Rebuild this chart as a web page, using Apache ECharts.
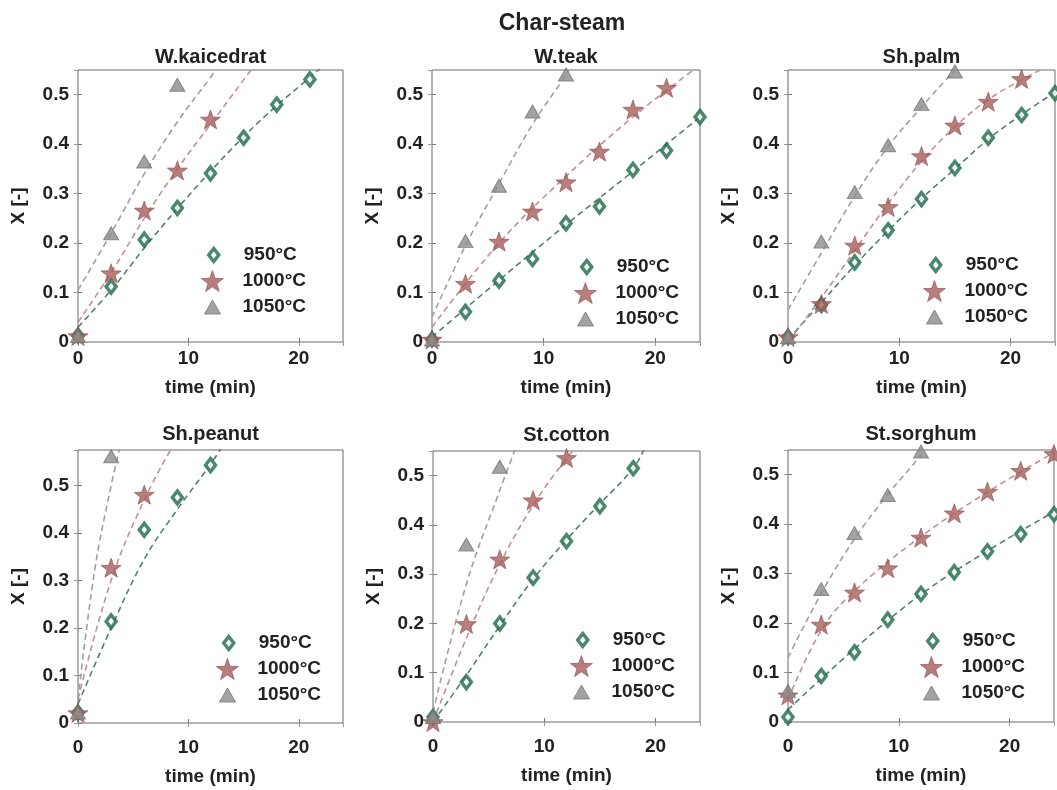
<!DOCTYPE html>
<html>
<head>
<meta charset="utf-8">
<title>Char-steam</title>
<script src="https://cdn.jsdelivr.net/npm/echarts@6/dist/echarts.min.js"></script>
<style>
    html, body { margin: 0; padding: 0; background: #fff; }
    #main { width: 1057px; height: 790px; }
</style>
</head>
<body>
<div id="main"></div>
<script>
// panel titles and temperatures
var panelNames = ["W.kaicedrat", "W.teak", "Sh.palm", "Sh.peanut", "St.cotton", "St.sorghum"];
var tempNames = ["950°C", "1000°C", "1050°C"];
var xTicks = [0, 10, 20];
var yMaxes = [0.55, 0.55, 0.55, 0.575, 0.55, 0.55];

// sampling times (min)
var t24 = [0, 3, 6, 9, 12, 15, 18, 21, 24];

// measured conversion X [-], one array per panel and temperature
var kaic950 = [0.013, 0.112, 0.207, 0.271, 0.341, 0.413, 0.480, 0.531];
var kaic1000 = [0.012, 0.139, 0.266, 0.347, 0.450];
var kaic1050 = [0.012, 0.220, 0.365, 0.520];

var teak950 = [0.005, 0.061, 0.124, 0.168, 0.240, 0.274, 0.348, 0.387, 0.455];
var teak1000 = [0.005, 0.118, 0.203, 0.264, 0.323, 0.385, 0.470, 0.514];
var teak1050 = [0.005, 0.204, 0.316, 0.466, 0.541];

var palm950 = [0.010, 0.075, 0.161, 0.226, 0.289, 0.352, 0.413, 0.459, 0.503];
var palm1000 = [0.010, 0.077, 0.195, 0.273, 0.376, 0.438, 0.486, 0.532];
var palm1050 = [0.010, 0.203, 0.303, 0.398, 0.481, 0.547];

var peanut950 = [0.022, 0.214, 0.407, 0.475, 0.543];
var peanut1000 = [0.021, 0.327, 0.481];
var peanut1050 = [0.022, 0.562];

var cotton950 = [0.010, 0.081, 0.200, 0.293, 0.367, 0.438, 0.515];
var cotton1000 = [0.000, 0.199, 0.330, 0.450, 0.536];
var cotton1050 = [0.010, 0.360, 0.518];

var sorg950 = [0.010, 0.093, 0.141, 0.207, 0.259, 0.303, 0.345, 0.380, 0.420];
var sorg1000 = [0.054, 0.197, 0.262, 0.311, 0.373, 0.422, 0.466, 0.508, 0.542];
var sorg1050 = [0.063, 0.269, 0.382, 0.459, 0.547];

// model curves (dashed) as [time, X]
var kaicFit950 = [[0, 0.03], [3, 0.105], [6, 0.19], [9, 0.27], [12, 0.345], [15, 0.415], [18, 0.478], [21, 0.535], [22.5, 0.565]];
var kaicFit1000 = [[0, 0.04], [3, 0.14], [6, 0.25], [9, 0.35], [12, 0.44], [15, 0.53], [16, 0.56]];
var kaicFit1050 = [[0, 0.105], [3, 0.22], [6, 0.34], [9, 0.445], [12, 0.535], [13, 0.565]];

var teakFit950 = [[0, 0.01], [6, 0.125], [12, 0.237], [18, 0.345], [24, 0.455]];
var teakFit1000 = [[0, 0.03], [6, 0.2], [12, 0.335], [18, 0.455], [24, 0.56]];
var teakFit1050 = [[0, 0.05], [3, 0.195], [6, 0.32], [9, 0.44], [12, 0.54], [12.5, 0.56]];

var palmFit950 = [[0, 0.005], [3, 0.08], [6, 0.155], [9, 0.225], [12, 0.29], [15, 0.35], [18, 0.41], [21, 0.46], [24, 0.505]];
var palmFit1000 = [[0, 0.0], [3, 0.09], [6, 0.185], [9, 0.28], [12, 0.365], [15, 0.435], [18, 0.49], [21, 0.53], [24, 0.565]];
var palmFit1050 = [[0, 0.065], [3, 0.18], [6, 0.295], [9, 0.395], [12, 0.475], [15, 0.55], [15.5, 0.56]];

var peanutFit950 = [[0, 0.04], [3, 0.2], [6, 0.345], [9, 0.45], [12, 0.545], [13, 0.58]];
var peanutFit1000 = [[0, 0.05], [3, 0.3], [6, 0.47], [8.5, 0.58]];
var peanutFit1050 = [[0, 0.05], [1.5, 0.32], [3, 0.5], [3.8, 0.58]];

var cottonFit950 = [[0, 0.0], [3, 0.095], [6, 0.195], [9, 0.29], [12, 0.37], [15, 0.443], [18, 0.515], [19, 0.555]];
var cottonFit1000 = [[0, 0.0], [3, 0.17], [6, 0.32], [9, 0.44], [12, 0.535], [13, 0.56]];
var cottonFit1050 = [[0, 0.02], [3, 0.28], [6, 0.47], [7.5, 0.56]];

var sorgFit950 = [[0, 0.025], [6, 0.148], [12, 0.258], [18, 0.346], [24, 0.425]];
var sorgFit1000 = [[0, 0.045], [3, 0.185], [6, 0.265], [12, 0.375], [18, 0.465], [24, 0.545]];
var sorgFit1050 = [[0, 0.13], [3, 0.26], [6, 0.37], [9, 0.46], [12, 0.54], [12.5, 0.56]];

var measured = [
    [kaic950, kaic1000, kaic1050],
    [teak950, teak1000, teak1050],
    [palm950, palm1000, palm1050],
    [peanut950, peanut1000, peanut1050],
    [cotton950, cotton1000, cotton1050],
    [sorg950, sorg1000, sorg1050]
];
var fits = [
    [kaicFit950, kaicFit1000, kaicFit1050],
    [teakFit950, teakFit1000, teakFit1050],
    [palmFit950, palmFit1000, palmFit1050],
    [peanutFit950, peanutFit1000, peanutFit1050],
    [cottonFit950, cottonFit1000, cottonFit1050],
    [sorgFit950, sorgFit1000, sorgFit1050]
];

// layout of the six boxes (px); legCx/legCy = centre of the first legend marker
var boxes = [
    { left: 78, top: 70, width: 265, height: 272, legCx: 212, legCy: 255, row: 0 },
    { left: 432, top: 70, width: 268, height: 272, legCx: 585, legCy: 267, row: 0 },
    { left: 788, top: 70, width: 267, height: 272, legCx: 934, legCy: 265, row: 0 },
    { left: 78, top: 450, width: 265, height: 273, legCx: 227, legCy: 643, row: 1 },
    { left: 433, top: 451, width: 267, height: 271, legCx: 581, legCy: 640, row: 1 },
    { left: 788, top: 450, width: 266, height: 272, legCx: 931, legCy: 641, row: 1 }
];

var FONT = "'Liberation Sans', Arial, sans-serif";
var TXT = "#222222";
var FS = 19;
var STAR = "path://M0,-10L2.35,-3.24L9.51,-3.09L3.8,1.24L5.88,8.09L0,4.1L-5.88,8.09L-3.8,1.24L-9.51,-3.09L-2.35,-3.24Z";

var markerStyles = [
    { symbol: "diamond", symbolSize: [10, 13], legSize: [10, 13], itemStyle: { color: "#ffffff", borderColor: "#1b6a47", borderWidth: 3.5 } },
    { symbol: STAR, symbolSize: 20, legSize: [22, 22], itemStyle: { color: "#a65c5c", borderColor: "#8f4c4c", borderWidth: 0.8 } },
    { symbol: "triangle", symbolSize: [15, 13], legSize: [16, 14], itemStyle: { color: "#8c8c8c", borderColor: "#757575", borderWidth: 1 } }
];
var lineColors = ["#52806f", "#c29090", "#a0a0a0"];

var grids = [], xAxes = [], yAxes = [], series = [], legends = [], graphics = [];
var xTop = [], yRight = [];

graphics.push({
    type: "text", x: 562, y: 24,
    style: { text: "Char-steam", font: "bold 23px " + FONT, fill: TXT, textAlign: "center", textVerticalAlign: "middle", align: "center", verticalAlign: "middle" }
});

for (var i = 0; i < 6; i++) {
    var b = boxes[i];
    grids.push({
        left: b.left, top: b.top, width: b.width, height: b.height,
        show: true, borderColor: "#6a6a6a", borderWidth: 1, backgroundColor: "#fff", containLabel: false
    });
    graphics.push({
        type: "text", x: b.left + b.width / 2, y: b.top - (b.row ? 16 : 13),
        style: { text: panelNames[i], font: "bold 20px " + FONT, fill: TXT, textAlign: "center", textVerticalAlign: "middle", align: "center", verticalAlign: "middle" }
    });
    xAxes.push({
        type: "value", gridIndex: i, min: 0, max: 24, interval: 10,
        name: "time (min)", nameLocation: "middle", nameGap: b.row ? 44 : 36,
        nameTextStyle: { fontFamily: FONT, fontWeight: "bold", fontSize: FS, color: TXT },
        axisLine: { show: false },
        axisTick: { show: true, inside: true, length: 4, lineStyle: { color: "#777" } },
        axisLabel: { margin: b.row ? 15 : 7, showMaxLabel: false, fontFamily: FONT, fontWeight: "bold", fontSize: FS, color: TXT },
        splitLine: { show: false }
    });
    yAxes.push({
        type: "value", gridIndex: i, min: 0, max: yMaxes[i], interval: 0.1,
        name: "X [-]", nameLocation: "middle", nameGap: 50,
        nameTextStyle: { fontFamily: FONT, fontWeight: "bold", fontSize: FS, color: TXT },
        axisLine: { show: false },
        axisTick: { show: true, inside: true, length: 4, lineStyle: { color: "#777" } },
        axisLabel: {
            margin: 9, showMaxLabel: false, fontFamily: FONT, fontWeight: "bold", fontSize: FS, color: TXT,
            formatter: function (v) { return Math.abs(v * 10 - Math.round(v * 10)) < 1e-6 ? String(Math.round(v * 10) / 10) : ""; }
        },
        splitLine: { show: false }
    });
    // box ticks on the top and right edges
    xTop.push({
        type: "value", gridIndex: i, position: "top", min: 0, max: 24, interval: 10,
        axisLine: { show: false }, axisLabel: { show: false }, splitLine: { show: false },
        axisTick: { show: true, inside: true, length: 4, lineStyle: { color: "#999" } }
    });
    yRight.push({
        type: "value", gridIndex: i, position: "right", min: 0, max: yMaxes[i], interval: 0.1,
        axisLine: { show: false }, axisLabel: { show: false }, splitLine: { show: false },
        axisTick: { show: true, inside: true, length: 4, lineStyle: { color: "#999" } }
    });
    for (var j = 0; j < 3; j++) {
        series.push({
            type: "line", name: "fit" + j, xAxisIndex: i, yAxisIndex: i,
            data: fits[i][j], smooth: 0.4, showSymbol: false, silent: true, clip: true, z: 2,
            lineStyle: { color: lineColors[j], width: 1.6, type: [6, 4] }
        });
    }
    for (var j = 0; j < 3; j++) {
        var vals = measured[i][j];
        var pts = [];
        for (var k = 0; k < vals.length; k++) {
            pts.push([t24[k], vals[k]]);
        }
        var ms = markerStyles[j];
        series.push({
            type: "scatter", name: tempNames[j], xAxisIndex: i, yAxisIndex: i,
            data: pts, symbol: ms.symbol, symbolSize: ms.symbolSize, symbolKeepAspect: j == 1,
            itemStyle: ms.itemStyle, z: 3, clip: false
        });
        // one legend entry per marker so each icon keeps its own size
        var w = ms.legSize[0], h = ms.legSize[1];
        var cy = b.legCy + j * 26;
        legends.push({
            data: [{ name: tempNames[j], icon: ms.symbol, itemStyle: ms.itemStyle }],
            orient: "vertical", left: b.legCx - w / 2, top: cy - 11, padding: 0,
            itemWidth: w, itemHeight: h, selectedMode: false,
            textStyle: { fontFamily: FONT, fontWeight: "bold", fontSize: FS, color: TXT, lineHeight: 22, padding: [0, 0, 0, 25 - w / 2] }
        });
    }
}

var myChart = echarts.init(document.getElementById("main"));
myChart.setOption({
    animation: false,
    backgroundColor: "#fff",
    grid: grids,
    xAxis: xAxes.concat(xTop),
    yAxis: yAxes.concat(yRight),
    legend: legends,
    graphic: graphics,
    series: series
});
</script>
</body>
</html>
